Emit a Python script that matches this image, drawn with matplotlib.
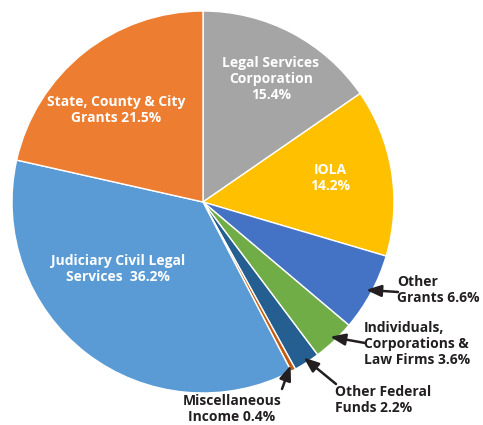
import numpy as np
import matplotlib
matplotlib.use("Agg")
import matplotlib.pyplot as plt

# slices, clockwise from 12 o'clock
labels = ["Legal Services\nCorporation\n15.4%", "IOLA\n14.2%", "Other\nGrants 6.6%",
          "Individuals,\nCorporations &\nLaw Firms 3.6%", "Other Federal\nFunds 2.2%",
          "Miscellaneous\nIncome 0.4%", "Judiciary Civil Legal\nServices  36.2%",
          "State, County & City\nGrants 21.5%"]
shares = [15.4, 14.2, 6.6, 3.6, 2.2, 0.4, 36.2, 21.5]
colors = ["#A5A5A5", "#FFC000", "#4472C4", "#70AD47", "#255E91", "#C55A11",
          "#5B9BD5", "#ED7D31"]

W, H = 483, 425
fig = plt.figure(figsize=(W / 100, H / 100), dpi=100)
cx, cy, r = 203, 202, 191
ax = fig.add_axes([(cx - r) / W, (H - cy - r) / H, 2 * r / W, 2 * r / H])

wedges, _ = ax.pie(shares, colors=colors, startangle=90, counterclock=False,
                   wedgeprops=dict(edgecolor="white", linewidth=1.0))
ax.set_xlim(-1, 1)
ax.set_ylim(-1, 1)
ax.set_aspect("equal")
ax.axis("off")

font = dict(family="Open Sans", fontweight="bold", fontsize=10, linespacing=1.18)

def fp(x, y):
    return (x / W, 1 - y / H)

# labels inside the big slices
inside = {0: (271, 79), 1: (330, 178), 6: (118, 269), 7: (116, 110)}
for i, (x, y) in inside.items():
    fig.text(*fp(x, y), labels[i], color="white", ha="center", va="center", **font)

# labels outside with arrows
outside = {2: ((397, 290), (398, 292), "left"),
           3: ((364, 344), (365, 343), "left"),
           4: ((335, 400), (336, 384), "left"),
           5: ((232, 409), (282, 389), "center")}
total = sum(shares)
start = 0
mids = []
for s in shares:
    mids.append(90 - 360 * (start + s / 2) / total)
    start += s
for i, ((tx, ty), (ax_, ay), ha) in outside.items():
    fig.text(*fp(tx, ty), labels[i], color="#231F20", ha=ha, va="center", **font)
    a = np.deg2rad(mids[i])
    ax.annotate("", xy=(0.97 * np.cos(a), 0.97 * np.sin(a)), xycoords="data",
                xytext=fp(ax_, ay), textcoords="figure fraction",
                arrowprops=dict(arrowstyle="-|>,head_length=0.9,head_width=0.35",
                                color="#231F20", lw=1.8, shrinkA=0, shrinkB=0),
                annotation_clip=False)

fig.savefig("out.png", dpi=100)
